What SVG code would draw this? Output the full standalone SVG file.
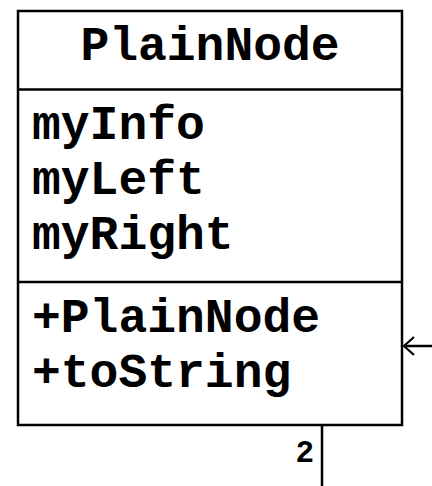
<svg xmlns="http://www.w3.org/2000/svg" width="432" height="486" viewBox="0 0 432 486">
  <style>
    .box { fill: #fff; stroke: #000; stroke-width: 2.5; }
    .line { fill: none; stroke: #000; stroke-width: 2.5; }
    .t { font-family: "Liberation Mono", "Courier New", monospace; font-weight: bold; font-size: 48px; fill: #000; }
    .lbl { font-family: "Liberation Mono", "Courier New", monospace; font-weight: bold; font-size: 31px; fill: #000; }
  </style>
  <defs>
    <!-- open V arrowhead -->
    <marker id="open" viewBox="0 0 14 22" refX="12" refY="11" markerWidth="14" markerHeight="22" markerUnits="userSpaceOnUse" orient="auto">
      <path d="M2 2 L12 11 L2 20" fill="none" stroke="#000" stroke-width="2.2"/>
    </marker>
  </defs>
  <g id="PlainNode">
    <rect class="box" x="18" y="11" width="384" height="414"/>
    <line class="line" x1="18" y1="89.5" x2="402" y2="89.5"/>
    <line class="line" x1="18" y1="282" x2="402" y2="282"/>
    <text class="t" x="210" y="60" text-anchor="middle">PlainNode</text>
    <text class="t" x="32" y="139">myInfo</text>
    <text class="t" x="32" y="194">myLeft</text>
    <text class="t" x="32" y="249">myRight</text>
    <text class="t" x="32" y="332">+PlainNode</text>
    <text class="t" x="32" y="387">+toString</text>
  </g>
  <g id="connectors">
    <line class="line" x1="432" y1="346" x2="404" y2="346" marker-end="url(#open)"/>
    <line class="line" x1="322" y1="425" x2="322" y2="486"/>
    <text class="lbl" x="314" y="462" text-anchor="end">2</text>
  </g>
</svg>
